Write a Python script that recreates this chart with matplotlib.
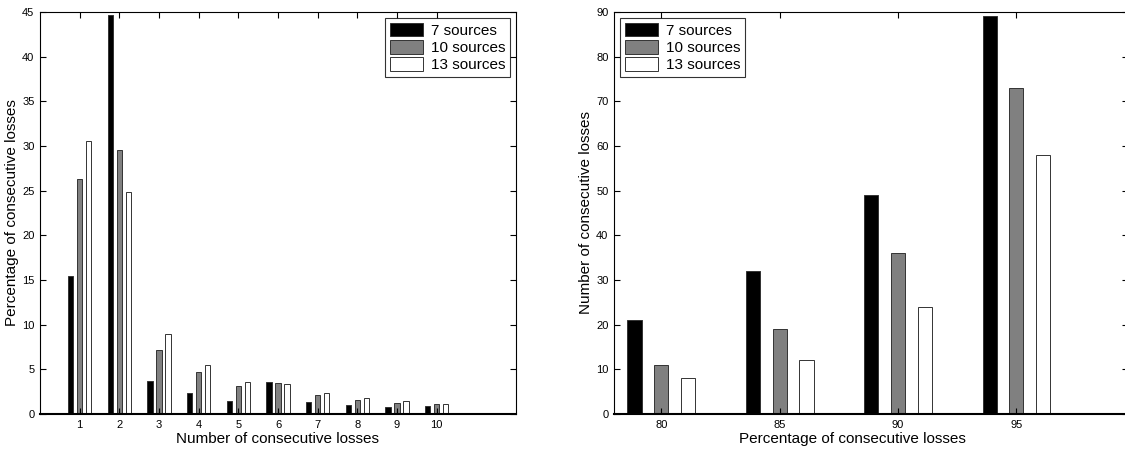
import numpy as np
import matplotlib
matplotlib.use("Agg")
import matplotlib.pyplot as plt

plt.rcParams['font.family'] = ['Liberation Sans', 'DejaVu Sans']

# left panel: distribution of consecutive losses
run_lengths = [1, 2, 3, 4, 5, 6, 7, 8, 9, 10]
pct_7 = [15.4, 44.7, 3.7, 2.35, 1.45, 3.6, 1.33, 1.0, 0.8, 0.95]
pct_10 = [26.3, 29.6, 7.15, 4.65, 3.15, 3.42, 2.1, 1.6, 1.18, 1.1]
pct_13 = [30.6, 24.9, 9.0, 5.45, 3.57, 3.4, 2.4, 1.78, 1.5, 1.1]

# right panel: number of consecutive losses per percentile
percentiles = [80, 85, 90, 95]
num_7 = [21, 32, 49, 89]
num_10 = [11, 19, 36, 73]
num_13 = [8, 12, 24, 58]

labels = ['7 sources', '10 sources', '13 sources']
colors = ['black', '#808080', 'white']

W, H = 1125, 450
fig = plt.figure(figsize=(W / 100, H / 100), dpi=100)


def axes_px(left, right, top, bottom):
    return fig.add_axes([left / W, 1 - bottom / H, (right - left) / W, (bottom - top) / H])


def style(ax):
    ax.tick_params(direction='in', top=True, right=True, labelsize=8, length=4, width=0.8, pad=4)
    for s in ax.spines.values():
        s.set_linewidth(0.8)
    ax.spines['bottom'].set_linewidth(1.5)


def add_legend(ax, loc):
    leg = ax.legend(loc=loc, fontsize=11, frameon=True, fancybox=False,
                    edgecolor='black', borderaxespad=0.4, handlelength=2.2,
                    handleheight=1.0, labelspacing=0.15, borderpad=0.3, handletextpad=0.5)
    leg.get_frame().set_linewidth(0.8)


ax1 = axes_px(40, 516, 12, 414)
x1 = np.array(run_lengths)
for i, vals in enumerate([pct_7, pct_10, pct_13]):
    ax1.bar(x1 + (i - 1) * 0.225, vals, width=0.13, color=colors[i],
            edgecolor='#333333', linewidth=0.7, label=labels[i])
ax1.set_xlim(0, 12)
ax1.set_ylim(0, 45)
ax1.set_xticks(run_lengths)
ax1.set_yticks(np.arange(0, 46, 5))
ax1.set_xlabel('Number of consecutive losses', fontsize=11, labelpad=2)
ax1.set_ylabel('Percentage of consecutive losses', fontsize=11, labelpad=2)
style(ax1)
add_legend(ax1, 'upper right')

ax2 = axes_px(614, 1128, 12, 414)
x2 = np.array(percentiles, dtype=float)
for i, vals in enumerate([num_7, num_10, num_13]):
    ax2.bar(x2 + (i - 1) * 1.13, vals, width=0.6, color=colors[i],
            edgecolor='#333333', linewidth=0.7, label=labels[i])
ax2.set_xlim(78, 78 + (1128 - 614) / 23.67)
ax2.set_ylim(0, 90)
ax2.set_xticks(percentiles)
ax2.set_yticks(np.arange(0, 91, 10))
ax2.set_xlabel('Percentage of consecutive losses', fontsize=11, labelpad=2)
ax2.xaxis.set_label_coords((852 - 614) / (1128 - 614), -0.045, transform=None)
ax2.set_ylabel('Number of consecutive losses', fontsize=11, labelpad=2)
style(ax2)
add_legend(ax2, 'upper left')

fig.savefig('out.png', dpi=100)
